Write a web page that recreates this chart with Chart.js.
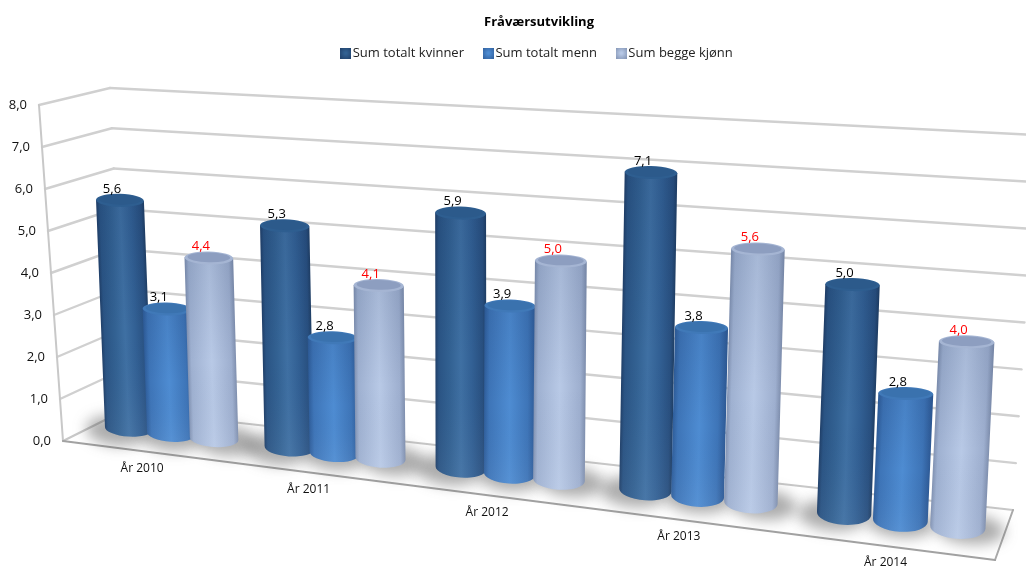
<!DOCTYPE html>
<html><head><meta charset="utf-8">
<style>html,body{margin:0;padding:0;background:#fff}#w{width:1026px;height:569px}canvas{display:block;filter:blur(.45px)}</style>
<script src="https://cdn.jsdelivr.net/npm/chart.js@4"></script>
</head><body><div id="w"><canvas id="c" width="1026" height="569"></canvas></div>
<script>
const categories = ['År 2010','År 2011','År 2012','År 2013','År 2014'];
const kvinner = [5.6,5.3,5.9,7.1,5.0];
const menn = [3.1,2.8,3.9,3.8,2.8];
const begge = [4.4,4.1,5.0,5.6,4.0];
const seriesNames = ['Sum totalt kvinner','Sum totalt menn','Sum begge kjønn'];
const yTicks = [0,1,2,3,4,5,6,7,8];
const fmt = v => v.toFixed(1).replace('.',',');
const FONT = '"Open Sans"';

const styles = {
  a:{stops:[[0,'#203f68'],[.07,'#2a5484'],[.3,'#336293'],[.5,'#3f70a3'],[.72,'#326094'],[.93,'#284f7f'],[1,'#1f3e64']],top:'#2c5a8b',rim:'#2e5e90',legend:'#2f5a8c'},
  b:{stops:[[0,'#2f5e9b'],[.1,'#3e75b8'],[.5,'#4e8cd2'],[.85,'#3e75b8'],[1,'#2e5a96']],top:'#3a72ae',rim:'#4079b8',legend:'#4079b8'},
  c:{stops:[[0,'#8192b2'],[.08,'#9fb1d1'],[.5,'#b8c9e6'],[.9,'#9eafcf'],[1,'#7f8fae']],top:'#8d9ec0',rim:'#a5b5d3',legend:'#a6b2c8'}
};
const keys=['a','b','c'];

// perspective frame of the 3-D plot
const FL=[63,441],FR=[995,560],BL=[125,410],BR=[1013,510];
const HFL=[-24,-336],HFR=[32,-390],HBL=[-15,-322],HBR=[23,-375];
const K=.835;
const L=(a,b,t)=>[a[0]+(b[0]-a[0])*t,a[1]+(b[1]-a[1])*t];
const persp=u=>K*u/(1+(K-1)*u);
const floorAt=(t,w)=>L(L(FL,FR,t),L(BL,BR,t),w);
const heightAt=(t,w)=>L(L(HFL,HFR,t),L(HBL,HBR,t),w);
const P=(t,v,w)=>{const f=floorAt(t,w),h=heightAt(t,w);return [f[0]+h[0]*v,f[1]+h[1]*v];};
const BARW=.54;

const line=(ctx,a,b,col,lw)=>{ctx.strokeStyle=col;ctx.lineWidth=lw;ctx.beginPath();ctx.moveTo(a[0],a[1]);ctx.lineTo(b[0],b[1]);ctx.stroke();};

function geom(el,chart){
  const area=chart.chartArea;
  const u=(el.x-area.left)/(area.right-area.left);
  const t=persp(u);
  const v=(el.base-el.y)/(area.bottom-area.top);
  const f=floorAt(t,BARW), h=heightAt(t,1);
  const b=[f[0]+6*t-3,f[1]];
  const lean=-14+33.5*t;
  const top=[b[0]+lean*v,b[1]+(h[1]-10.4)*v+6];
  const rx=el.width*(.80+.14*t)*.5;
  return {t,b,top,rx};
}

Chart.BarElement.prototype.draw=function(ctx){
  const chart=ctx.canvas.$chart;
  const g=geom(this,chart);
  const st=styles[this.options.borderColor];
  const {b,top,rx}=g;
  const rotB=.065, rotT=.025, ryT=6.5, ryB=8+4*g.t;
  const cs=Math.cos(rotB), sn=Math.sin(rotB);
  ctx.save();
  ctx.beginPath();
  ctx.moveTo(top[0]-rx,top[1]-rx*rotT);
  ctx.lineTo(b[0]-rx*cs,b[1]-rx*sn);
  ctx.ellipse(b[0],b[1],rx,ryB,rotB,Math.PI,0,true);
  ctx.lineTo(top[0]+rx,top[1]+rx*rotT);
  ctx.closePath();
  const s=(top[0]-b[0])/(top[1]-b[1]);
  ctx.save();
  ctx.transform(1,0,s,1,-s*b[1],0);
  const gr=ctx.createLinearGradient(b[0]-rx,0,b[0]+rx,0);
  st.stops.forEach(p=>gr.addColorStop(p[0],p[1]));
  ctx.fillStyle=gr;ctx.fill();
  ctx.restore();
  const vg=ctx.createLinearGradient(0,top[1],0,b[1]+ryB);
  vg.addColorStop(0,'rgba(10,30,70,.10)');vg.addColorStop(.55,'rgba(10,30,70,0)');vg.addColorStop(1,'rgba(255,255,255,.05)');
  ctx.fillStyle=vg;ctx.fill();
  ctx.beginPath();ctx.ellipse(top[0],top[1],rx,ryT,rotT,0,Math.PI*2);
  ctx.fillStyle=st.rim;ctx.fill();
  ctx.beginPath();ctx.ellipse(top[0],top[1]-.6,rx-3,ryT-1.6,rotT,0,Math.PI*2);
  ctx.fillStyle=st.top;ctx.fill();
  ctx.restore();
};

const frame3d={
  id:'frame3d',
  beforeDatasetsDraw(chart){
    const ctx=chart.ctx, y=chart.scales.y, x=chart.scales.x, area=chart.chartArea;
    ctx.canvas.$chart=chart;
    const vOf=val=>(y.bottom-y.getPixelForValue(val))/(y.bottom-y.top);
    ctx.save();ctx.lineCap='round';ctx.lineJoin='round';
    // walls and grid
    yTicks.forEach(val=>{
      const v=vOf(val);
      const a=P(0,v,0),c=P(0,v,1),d=P(1,v,1);
      if(val>0){line(ctx,a,c,'#d0d0d0',2.4);line(ctx,c,d,'#d0d0d0',2.4);}
    });
    line(ctx,P(0,0,0),P(0,1,0),'#c8c8c8',2);
    // floor
    line(ctx,BL,BR,'#c8c8c8',2.2);
    line(ctx,FL,BL,'#c8c8c8',2.2);
    line(ctx,BR,FR,'#aaaaaa',2);
    line(ctx,FL,FR,'#a2a2a2',2.2);
    // tick labels
    ctx.fillStyle='#111';ctx.font='13px '+FONT;ctx.textAlign='right';ctx.textBaseline='middle';
    yTicks.forEach(val=>{const p=P(0,vOf(val),0);ctx.fillText(fmt(val),p[0]-12,p[1]);});
    ctx.font='12px '+FONT;ctx.textAlign='center';
    categories.forEach((c,i)=>{
      const u=(x.getPixelForValue(i)-area.left)/(area.right-area.left);
      const p=floorAt(persp(u),0);
      ctx.fillText(c,p[0],p[1]+17);
    });
    // soft floor shadows
    ctx.filter='blur(7px)';
    ctx.fillStyle='rgba(70,70,70,.45)';
    chart.data.datasets.forEach((ds,di)=>{
      chart.getDatasetMeta(di).data.forEach(el=>{
        const g=geom(el,chart);
        ctx.beginPath();ctx.ellipse(g.b[0]+(di===2?12:di===0?-12:0),g.b[1]+2,g.rx+7,15,.09,0,Math.PI*2);ctx.fill();
      });
    });
    ctx.filter='none';
    ctx.restore();
    // bars, first series at the back
    chart.data.datasets.forEach((ds,di)=>chart.getDatasetMeta(di).controller.draw());
    // value labels
    ctx.save();ctx.font='13px '+FONT;ctx.textAlign='center';ctx.textBaseline='middle';
    chart.data.datasets.forEach((ds,di)=>{
      ctx.fillStyle=di===2?'#ff0000':'#000';
      chart.getDatasetMeta(di).data.forEach((el,i)=>{
        const g=geom(el,chart);
        ctx.fillText(fmt(ds.data[i]),g.top[0]-8,g.top[1]-11.5);
      });
    });
    ctx.restore();
    return false;
  }
};

const swatch=k=>{const c=document.createElement('canvas');c.width=11;c.height=11;const q=c.getContext('2d');
  const g=q.createRadialGradient(5.5,5.5,1,5.5,5.5,8);g.addColorStop(0,styles[k].stops[2][1]);g.addColorStop(1,styles[k].stops[0][1]);q.fillStyle=g;q.fillRect(0,0,11,11);return c;};

const chart=new Chart(document.getElementById('c'),{
  type:'bar',
  data:{labels:categories,datasets:[kvinner,menn,begge].map((d,i)=>({
    label:seriesNames[i],data:d,backgroundColor:styles[keys[i]].legend,borderColor:keys[i],
    categoryPercentage:.81,barPercentage:1.13
  }))},
  plugins:[frame3d],
  options:{
    responsive:false,animation:false,
    events:[],
    layout:{padding:{top:1,left:52,right:0,bottom:0}},
    scales:{
      x:{display:false,offset:true},
      y:{display:false,min:0,max:8,ticks:{stepSize:1}}
    },
    plugins:{
      tooltip:{enabled:false},
      title:{display:true,text:'Fråværsutvikling',color:'#000',font:{family:FONT,size:13,weight:'bold'},padding:{top:13,bottom:-7}},
      legend:{position:'top',labels:{
        usePointStyle:true,boxWidth:1,boxHeight:11,padding:24,color:'#222',font:{family:FONT,size:13},
        generateLabels:c=>c.data.datasets.map((d,i)=>({text:d.label,pointStyle:swatch(keys[i]),datasetIndex:i,fontColor:'#222'}))
      }}
    }
  }
});
</script></body></html>
